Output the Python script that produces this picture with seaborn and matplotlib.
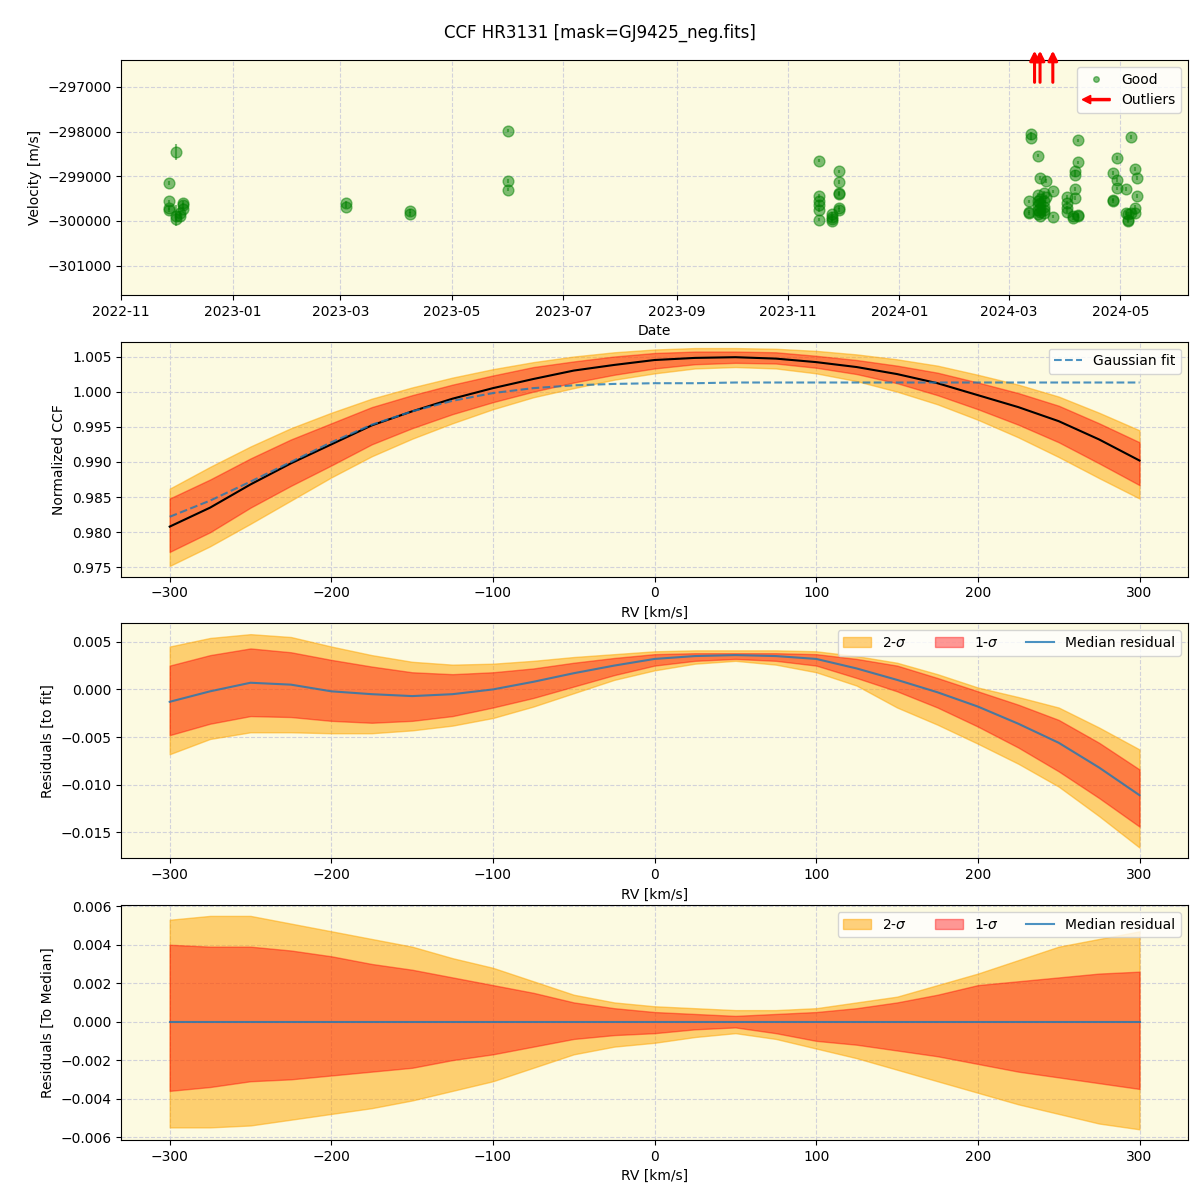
import pandas as pd
import seaborn as sns
import matplotlib.pyplot as plt
import matplotlib.dates as mdates
from matplotlib.lines import Line2D
from matplotlib.patches import FancyArrow, Patch
from matplotlib.legend_handler import HandlerPatch

# ---- time series (panel 1) ----
nights = ["2022-11-27", "2022-12-01", "2022-12-03", "2022-12-05", "2023-03-04", "2023-04-08",
          "2023-06-01", "2023-11-18", "2023-11-25", "2023-11-29", "2024-03-12", "2024-03-13",
          "2024-03-17", "2024-03-18", "2024-03-20", "2024-03-21", "2024-03-25", "2024-04-02",
          "2024-04-05", "2024-04-06", "2024-04-08", "2024-04-27", "2024-04-29", "2024-05-04",
          "2024-05-05", "2024-05-07", "2024-05-09", "2024-05-10"]
night_rv = [
    [-299150, -299560, -299710, -299760],
    [-298460, -299880, -299950],
    [-299830, -299880],
    [-299600, -299650, -299730],
    [-299600, -299680],
    [-299780, -299840],
    [-297980, -299100, -299300],
    [-298650, -299440, -299560, -299640, -299750, -299970],
    [-299850, -299900, -299950, -299990],
    [-298890, -299130, -299370, -299390, -299700, -299760],
    [-299560, -299790, -299830],
    [-298050, -298140],
    [-298540, -299420, -299560, -299650, -299750, -299850],
    [-299040, -299500, -299600, -299700, -299800, -299880],
    [-299380, -299560, -299680, -299760, -299820],
    [-299100, -299460],
    [-299340, -299900],
    [-299460, -299600, -299710, -299790],
    [-299930, -299880],
    [-298890, -298970, -299290, -299490],
    [-298200, -298690, -299870, -299890],
    [-298930, -299520, -299550],
    [-298590, -299080, -299270],
    [-299280, -299820],
    [-299850, -299970, -300000],
    [-298120, -299830],
    [-298840, -299710, -299820],
    [-299040, -299440],
]
night_err = [
    [40, 40, 40, 40],
    [180, 230, 60],
    [50, 50],
    [50, 50, 50],
    [40, 40],
    [40, 40],
    [40, 40, 40],
    [40, 40, 40, 40, 40, 40],
    [40, 40, 40, 40],
    [40, 40, 40, 40, 40, 40],
    [40, 40, 40],
    [40, 40],
    [40, 40, 40, 40, 40, 40],
    [40, 40, 40, 40, 40, 40],
    [40, 40, 40, 40, 40],
    [40, 40],
    [40, 40],
    [40, 40, 40, 40],
    [40, 40],
    [40, 40, 40, 40],
    [40, 40, 40, 40],
    [40, 40, 40],
    [40, 40, 40],
    [40, 40],
    [40, 60, 40],
    [40, 40],
    [40, 60, 40],
    [40, 40],
]
outlier_dates = ["2024-03-15", "2024-03-18", "2024-03-25"]

ts = pd.DataFrame({
    "date": pd.to_datetime([d for d, v in zip(nights, night_rv) for _ in v]),
    "rv": [x for v in night_rv for x in v],
    "err": [x for e in night_err for x in e],
})

# ---- CCF profiles (panels 2-4) ----
rv_grid = [-300, -275, -250, -225, -200, -175, -150, -125, -100, -75, -50, -25, 0,
           25, 50, 75, 100, 125, 150, 175, 200, 225, 250, 275, 300]

ccf_median = [0.9808, 0.9835, 0.9868, 0.9898, 0.9925, 0.9952, 0.9972, 0.9990, 1.0005, 1.0018,
              1.0030, 1.0038, 1.0045, 1.0048, 1.0049, 1.0047, 1.0042, 1.0035, 1.0025, 1.0012,
              0.9995, 0.9978, 0.9958, 0.9932, 0.9902]
ccf_fit = [0.9822, 0.9845, 0.9872, 0.9900, 0.9928, 0.9953, 0.9972, 0.9987, 0.9998, 1.0005,
           1.0009, 1.0011, 1.0012, 1.0012, 1.0013, 1.0013, 1.0013, 1.0013, 1.0013, 1.0013,
           1.0013, 1.0013, 1.0013, 1.0013, 1.0013]
ccf_1s_lo = [0.9772, 0.9800, 0.9835, 0.9866, 0.9895, 0.9925, 0.9948, 0.9968, 0.9985, 1.0000,
             1.0013, 1.0024, 1.0033, 1.0039, 1.0041, 1.0040, 1.0034, 1.0025, 1.0012, 0.9995,
             0.9975, 0.9953, 0.9928, 0.9898, 0.9867]
ccf_1s_hi = [0.9848, 0.9875, 0.9905, 0.9932, 0.9955, 0.9978, 0.9995, 1.0010, 1.0023, 1.0035,
             1.0043, 1.0050, 1.0055, 1.0057, 1.0057, 1.0056, 1.0051, 1.0045, 1.0037, 1.0027,
             1.0013, 0.9998, 0.9980, 0.9955, 0.9928]
ccf_2s_lo = [0.9752, 0.9780, 0.9812, 0.9845, 0.9878, 0.9908, 0.9933, 0.9955, 0.9975, 0.9992,
             1.0005, 1.0017, 1.0026, 1.0033, 1.0035, 1.0033, 1.0026, 1.0015, 1.0000, 0.9982,
             0.9960, 0.9935, 0.9907, 0.9877, 0.9848]
ccf_2s_hi = [0.9862, 0.9893, 0.9922, 0.9948, 0.9970, 0.9990, 1.0006, 1.0020, 1.0032, 1.0042,
             1.0050, 1.0056, 1.0060, 1.0062, 1.0062, 1.0061, 1.0058, 1.0053, 1.0046, 1.0037,
             1.0024, 1.0010, 0.9993, 0.9970, 0.9945]

res_median = [-0.0013, -0.0002, 0.0007, 0.0005, -0.0002, -0.0005, -0.0007, -0.0005, 0.0000, 0.0008,
              0.0017, 0.0025, 0.0032, 0.0035, 0.0036, 0.0035, 0.0032, 0.0022, 0.0010, -0.0003,
              -0.0018, -0.0036, -0.0056, -0.0082, -0.0111]
res_1s_lo = [-0.0048, -0.0036, -0.0028, -0.0029, -0.0033, -0.0035, -0.0033, -0.0028, -0.0019, -0.0009,
             0.0003, 0.0015, 0.0025, 0.0030, 0.0032, 0.0030, 0.0025, 0.0012, -0.0002, -0.0019,
             -0.0039, -0.0061, -0.0086, -0.0114, -0.0144]
res_1s_hi = [0.0025, 0.0036, 0.0043, 0.0039, 0.0031, 0.0024, 0.0018, 0.0016, 0.0018, 0.0022,
             0.0028, 0.0033, 0.0037, 0.0038, 0.0038, 0.0038, 0.0037, 0.0032, 0.0025, 0.0012,
             -0.0002, -0.0016, -0.0032, -0.0056, -0.0084]
res_2s_lo = [-0.0068, -0.0052, -0.0045, -0.0045, -0.0046, -0.0046, -0.0043, -0.0038, -0.0030, -0.0018,
             -0.0004, 0.0010, 0.0020, 0.0027, 0.0030, 0.0026, 0.0018, 0.0004, -0.0019, -0.0037,
             -0.0057, -0.0078, -0.0102, -0.0133, -0.0166]
res_2s_hi = [0.0045, 0.0054, 0.0058, 0.0055, 0.0045, 0.0036, 0.0029, 0.0026, 0.0027, 0.0030,
             0.0034, 0.0037, 0.0040, 0.0041, 0.0041, 0.0041, 0.0040, 0.0035, 0.0028, 0.0016,
             0.0002, -0.0008, -0.0019, -0.0040, -0.0063]

med_median = [0.0] * 25
med_1s_lo = [-0.0036, -0.0034, -0.0031, -0.0030, -0.0028, -0.0026, -0.0024, -0.0020, -0.0017, -0.0013,
             -0.0009, -0.0007, -0.0006, -0.0004, -0.0003, -0.0006, -0.0010, -0.0012, -0.0015, -0.0018,
             -0.0022, -0.0026, -0.0029, -0.0032, -0.0035]
med_1s_hi = [0.0040, 0.0039, 0.0039, 0.0037, 0.0034, 0.0030, 0.0027, 0.0023, 0.0019, 0.0015,
             0.0010, 0.0007, 0.0005, 0.0004, 0.0003, 0.0004, 0.0005, 0.0007, 0.0010, 0.0014,
             0.0019, 0.0021, 0.0023, 0.0025, 0.0026]
med_2s_lo = [-0.0055, -0.0055, -0.0054, -0.0051, -0.0048, -0.0045, -0.0041, -0.0036, -0.0031, -0.0024,
             -0.0017, -0.0013, -0.0011, -0.0008, -0.0006, -0.0009, -0.0014, -0.0019, -0.0025, -0.0031,
             -0.0037, -0.0043, -0.0048, -0.0053, -0.0056]
med_2s_hi = [0.0053, 0.0055, 0.0055, 0.0051, 0.0047, 0.0043, 0.0039, 0.0033, 0.0028, 0.0021,
             0.0014, 0.0010, 0.0008, 0.0007, 0.0006, 0.0006, 0.0007, 0.0010, 0.0013, 0.0019,
             0.0025, 0.0032, 0.0039, 0.0043, 0.0047]

BG = "#fcfae1"
fig, axes = plt.subplots(4, 1, figsize=(12, 12), dpi=100)
fig.subplots_adjust(left=0.101, right=0.99, top=0.95, bottom=0.05, hspace=0.2)
fig.suptitle("CCF HR3131 [mask=GJ9425_neg.fits]", fontsize=12)

for ax in axes:
    ax.set_facecolor(BG)
    ax.grid(True, linestyle="--", color="#d2d2da", linewidth=0.8)
    ax.set_axisbelow(True)

# panel 1
ax1 = axes[0]
ax1.errorbar(ts["date"], ts["rv"], yerr=ts["err"], fmt="none", ecolor="green", alpha=0.5, elinewidth=1.5)
sns.scatterplot(data=ts, x="date", y="rv", color="green", alpha=0.5, s=60,
                edgecolor="green", linewidth=1, ax=ax1, legend=False)
for d in pd.to_datetime(outlier_dates):
    xd = mdates.date2num(d)
    ax1.annotate("", xy=(xd, 1.04), xytext=(xd, 0.905), xycoords=ax1.get_xaxis_transform(),
                 textcoords=ax1.get_xaxis_transform(), annotation_clip=False,
                 arrowprops=dict(arrowstyle="-|>", color="red", lw=2.2, mutation_scale=14,
                                 shrinkA=0, shrinkB=0))
ax1.set_xlim(pd.Timestamp("2022-11-01"), pd.Timestamp("2024-06-07"))
ax1.set_ylim(-301650, -296400)
ax1.ticklabel_format(axis="y", style="plain", useOffset=False)
ax1.xaxis.set_major_locator(mdates.MonthLocator(bymonth=[1, 3, 5, 7, 9, 11]))
ax1.xaxis.set_major_formatter(mdates.DateFormatter("%Y-%m"))
ax1.set_xlabel("Date")
ax1.set_ylabel("Velocity [m/s]")


def make_arrow(legend, orig_handle, xdescent, ydescent, width, height, fontsize):
    return FancyArrow(width, 0.5 * height, -width, 0, width=1.5, head_width=6, head_length=6,
                      length_includes_head=True, color="red")


good_h = Line2D([], [], marker="o", ls="", color="green", alpha=0.5, ms=4, label="Good")
out_h = Patch(color="red", label="Outliers")
ax1.legend(handles=[good_h, out_h], loc="upper right",
           handler_map={out_h: HandlerPatch(patch_func=make_arrow)})

# panel 2
ax2 = axes[1]
ax2.fill_between(rv_grid, ccf_2s_lo, ccf_2s_hi, color="orange", alpha=0.5)
ax2.fill_between(rv_grid, ccf_1s_lo, ccf_1s_hi, color="red", alpha=0.4)
sns.lineplot(x=rv_grid, y=ccf_median, color="black", lw=1.5, ax=ax2)
sns.lineplot(x=rv_grid, y=ccf_fit, color="tab:blue", alpha=0.8, lw=1.5, ls="--", ax=ax2, label="Gaussian fit")
ax2.set_ylim(0.9737, 1.0071)
ax2.set_xlabel("RV [km/s]")
ax2.set_ylabel("Normalized CCF")
ax2.legend(loc="upper right")

# panels 3 and 4
panels = [
    (axes[2], res_median, res_1s_lo, res_1s_hi, res_2s_lo, res_2s_hi, "Residuals [to fit]"),
    (axes[3], med_median, med_1s_lo, med_1s_hi, med_2s_lo, med_2s_hi, "Residuals [To Median]"),
]
for ax, med, lo1, hi1, lo2, hi2, ylab in panels:
    ax.fill_between(rv_grid, lo2, hi2, color="orange", alpha=0.5, label=r"2-$\sigma$")
    ax.fill_between(rv_grid, lo1, hi1, color="red", alpha=0.4, label=r"1-$\sigma$")
    sns.lineplot(x=rv_grid, y=med, color="tab:blue", alpha=0.8, lw=1.5, ax=ax, label="Median residual")
    ax.set_xlabel("RV [km/s]")
    ax.set_ylabel(ylab)
    ax.legend(loc="upper right", ncol=3)

fig.savefig("out.png", dpi=100)
